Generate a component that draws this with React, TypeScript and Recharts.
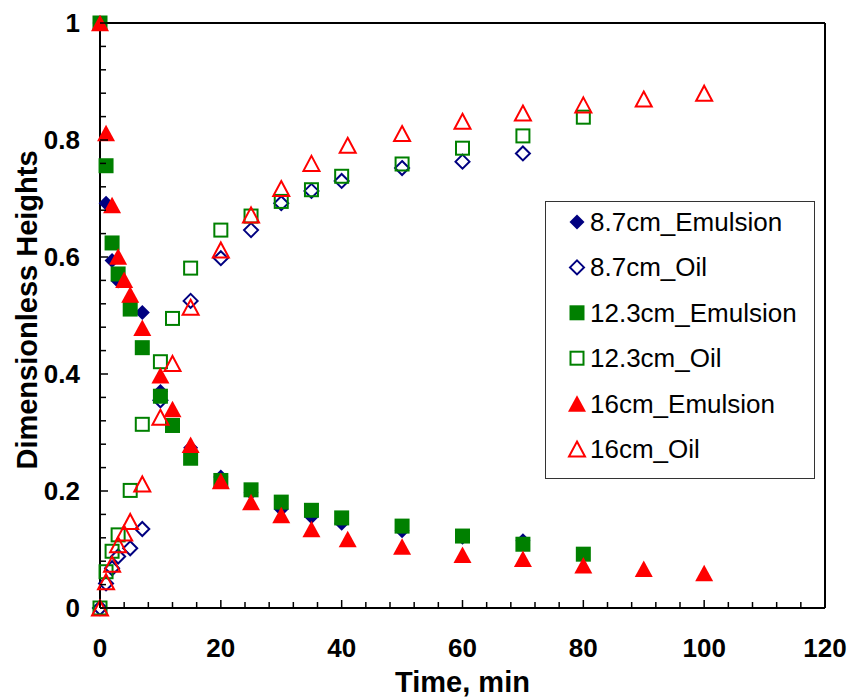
import { ScatterChart, Scatter, XAxis, YAxis, ReferenceLine, Legend } from 'recharts';

// time in minutes, heights are dimensionless (layer height / initial height)
const emul87Time = [0, 1, 2, 3, 7, 10, 15, 20, 25, 30, 35, 40, 50, 60, 70];
const emul87Height = [1, 0.692, 0.594, 0.559, 0.505, 0.37, 0.274, 0.224, 0.197, 0.169, 0.156, 0.145, 0.132, 0.121, 0.115];

const oil87Time = [0, 1, 2, 3, 5, 7, 10, 15, 20, 25, 30, 35, 40, 50, 60, 70];
const oil87Height = [0, 0.042, 0.068, 0.088, 0.102, 0.135, 0.355, 0.525, 0.598, 0.646, 0.692, 0.713, 0.73, 0.752, 0.763, 0.777];

const emul123Time = [0, 1, 2, 3, 5, 7, 10, 12, 15, 20, 25, 30, 35, 40, 50, 60, 70, 80];
const emul123Height = [1, 0.756, 0.624, 0.571, 0.511, 0.445, 0.362, 0.312, 0.256, 0.218, 0.202, 0.181, 0.167, 0.154, 0.14, 0.123, 0.109, 0.092];

const oil123Time = [0, 1, 2, 3, 5, 7, 10, 12, 15, 20, 25, 30, 35, 40, 50, 60, 70, 80];
const oil123Height = [0, 0.062, 0.097, 0.125, 0.201, 0.314, 0.421, 0.495, 0.581, 0.646, 0.67, 0.695, 0.715, 0.738, 0.759, 0.786, 0.807, 0.839];

const emul16Time = [0, 1, 2, 3, 4, 5, 7, 10, 12, 15, 20, 25, 30, 35, 41, 50, 60, 70, 80, 90, 100];
const emul16Height = [1, 0.812, 0.689, 0.601, 0.561, 0.536, 0.479, 0.398, 0.34, 0.279, 0.217, 0.181, 0.159, 0.135, 0.118, 0.105, 0.091, 0.084, 0.073, 0.067, 0.06];

const oil16Time = [0, 1, 2, 3, 4, 5, 7, 10, 12, 15, 20, 25, 30, 35, 41, 50, 60, 70, 80, 90, 100];
const oil16Height = [0, 0.045, 0.075, 0.108, 0.128, 0.148, 0.212, 0.326, 0.418, 0.514, 0.612, 0.672, 0.717, 0.76, 0.791, 0.811, 0.832, 0.846, 0.86, 0.87, 0.88];

// labelled ticks
const xTicks = [0, 20, 40, 60, 80, 100, 120];
const yTicks = [0, 0.2, 0.4, 0.6, 0.8, 1];
const yTickLabels = ['0', '0.2', '0.4', '0.6', '0.8', '1'];

// minor ticks: 5 steps between labels
const xMinor = Array.from({ length: 31 }, (_, i) => i * 4);
const yMinor = Array.from({ length: 26 }, (_, i) => Math.round(i * 4) / 100);

const FONT = '"Liberation Sans", Arial, sans-serif';

type Kind = 'diamond' | 'square' | 'triangle';

const toPoints = (t: number[], h: number[]) => t.map((x, i) => ({ t: x, h: h[i] }));

const series = [
  { name: '8.7cm_Emulsion', color: '#000080', kind: 'diamond' as Kind, filled: true, data: toPoints(emul87Time, emul87Height) },
  { name: '8.7cm_Oil', color: '#000080', kind: 'diamond' as Kind, filled: false, data: toPoints(oil87Time, oil87Height) },
  { name: '12.3cm_Emulsion', color: '#008000', kind: 'square' as Kind, filled: true, data: toPoints(emul123Time, emul123Height) },
  { name: '12.3cm_Oil', color: '#008000', kind: 'square' as Kind, filled: false, data: toPoints(oil123Time, oil123Height) },
  { name: '16cm_Emulsion', color: '#FF0000', kind: 'triangle' as Kind, filled: true, data: toPoints(emul16Time, emul16Height) },
  { name: '16cm_Oil', color: '#FF0000', kind: 'triangle' as Kind, filled: false, data: toPoints(oil16Time, oil16Height) },
];

function Marker({ cx, cy, kind, filled, color }: { cx: number; cy: number; kind: Kind; filled: boolean; color: string }) {
  const fill = filled ? color : 'none';
  const stroke = filled ? 'none' : color;
  if (kind === 'diamond') {
    const r = filled ? 7.5 : 7;
    return (
      <polygon
        points={`${cx},${cy - r} ${cx + r},${cy} ${cx},${cy + r} ${cx - r},${cy}`}
        fill={fill} stroke={stroke} strokeWidth={2}
      />
    );
  }
  if (kind === 'square') {
    const s = filled ? 15 : 13;
    return <rect x={cx - s / 2} y={cy - s / 2} width={s} height={s} fill={fill} stroke={stroke} strokeWidth={2} />;
  }
  const w = filled ? 18 : 16;
  const h = filled ? 16.5 : 15;
  return (
    <polygon
      points={`${cx},${cy - h / 2} ${cx + w / 2},${cy + h / 2} ${cx - w / 2},${cy + h / 2}`}
      fill={fill} stroke={stroke} strokeWidth={2} strokeLinejoin="miter"
    />
  );
}

const XTick = (props: any) => {
  const { x, y, payload } = props;
  const major = xTicks.includes(payload.value);
  return (
    <g>
      <line x1={x} y1={y} x2={x} y2={y - (major ? 8 : 6)} stroke="#000" strokeWidth={1.5} />
      {major && (
        <text x={x} y={y + 49} textAnchor="middle" fontSize={26} fontWeight="bold" fontFamily={FONT} fill="#000">
          {payload.value}
        </text>
      )}
    </g>
  );
};

const YTick = (props: any) => {
  const { x, y, payload } = props;
  const idx = yTicks.findIndex((v) => Math.abs(v - payload.value) < 1e-6);
  const major = idx >= 0;
  return (
    <g>
      <line x1={x} y1={y} x2={x + (major ? 8 : 6)} y2={y} stroke="#000" strokeWidth={1.5} />
      {major && (
        <text x={x - 20} y={y + 9} textAnchor="end" fontSize={26} fontWeight="bold" fontFamily={FONT} fill="#000">
          {yTickLabels[idx]}
        </text>
      )}
    </g>
  );
};

const LegendBox = () => (
  <svg width={270} height={278} style={{ display: 'block' }}>
    <rect x={0.5} y={0.5} width={269} height={277} fill="#fff" stroke="#333" strokeWidth={1} />
    {series.map((s, i) => {
      const cy = 21 + i * 45.4;
      return (
        <g key={s.name}>
          <Marker cx={32} cy={cy} kind={s.kind} filled={s.filled} color={s.color} />
          <text x={45} y={cy + 9} fontSize={26} fontFamily={FONT} fill="#000">
            {s.name}
          </text>
        </g>
      );
    })}
  </svg>
);

export default function App() {
  return (
    <div style={{ position: 'absolute', left: 0, top: 0, background: '#fff' }}>
      <ScatterChart width={853} height={700} margin={{ top: 23, right: 28, bottom: 0, left: 0 }}>
        <XAxis
          type="number"
          dataKey="t"
          domain={[0, 120]}
          ticks={xMinor}
          interval={0}
          height={92}
          tickSize={0}
          tickMargin={0}
          tickLine={false}
          tick={<XTick />}
          axisLine={{ stroke: '#000', strokeWidth: 2 }}
          label={(p: any) => (
            <text
              x={p.viewBox.x + p.viewBox.width / 2}
              y={692}
              textAnchor="middle"
              fontSize={29}
              fontWeight="bold"
              fontFamily={FONT}
              fill="#000"
            >
              Time, min
            </text>
          )}
        />
        <YAxis
          type="number"
          dataKey="h"
          domain={[0, 1]}
          ticks={yMinor}
          interval={0}
          width={100}
          tickSize={0}
          tickMargin={0}
          tickLine={false}
          tick={<YTick />}
          axisLine={{ stroke: '#000', strokeWidth: 2 }}
          label={() => (
            <text
              x={37}
              y={310}
              transform="rotate(-90 37 310)"
              textAnchor="middle"
              fontSize={29}
              fontWeight="bold"
              fontFamily={FONT}
              fill="#000"
            >
              Dimensionless Heights
            </text>
          )}
        />
        <ReferenceLine y={1} stroke="#000" strokeWidth={2} />
        <ReferenceLine x={120} stroke="#000" strokeWidth={2} />
        {series.map((s) => (
          <Scatter
            key={s.name}
            name={s.name}
            data={s.data}
            fill={s.color}
            isAnimationActive={false}
            shape={(p: any) => <Marker cx={p.cx} cy={p.cy} kind={s.kind} filled={s.filled} color={s.color} />}
          />
        ))}
        <Legend
          layout="vertical"
          align="center"
          verticalAlign="middle"
          wrapperStyle={{ left: 545, top: 201, width: 270, height: 278 }}
          content={() => <LegendBox />}
        />
      </ScatterChart>
    </div>
  );
}
